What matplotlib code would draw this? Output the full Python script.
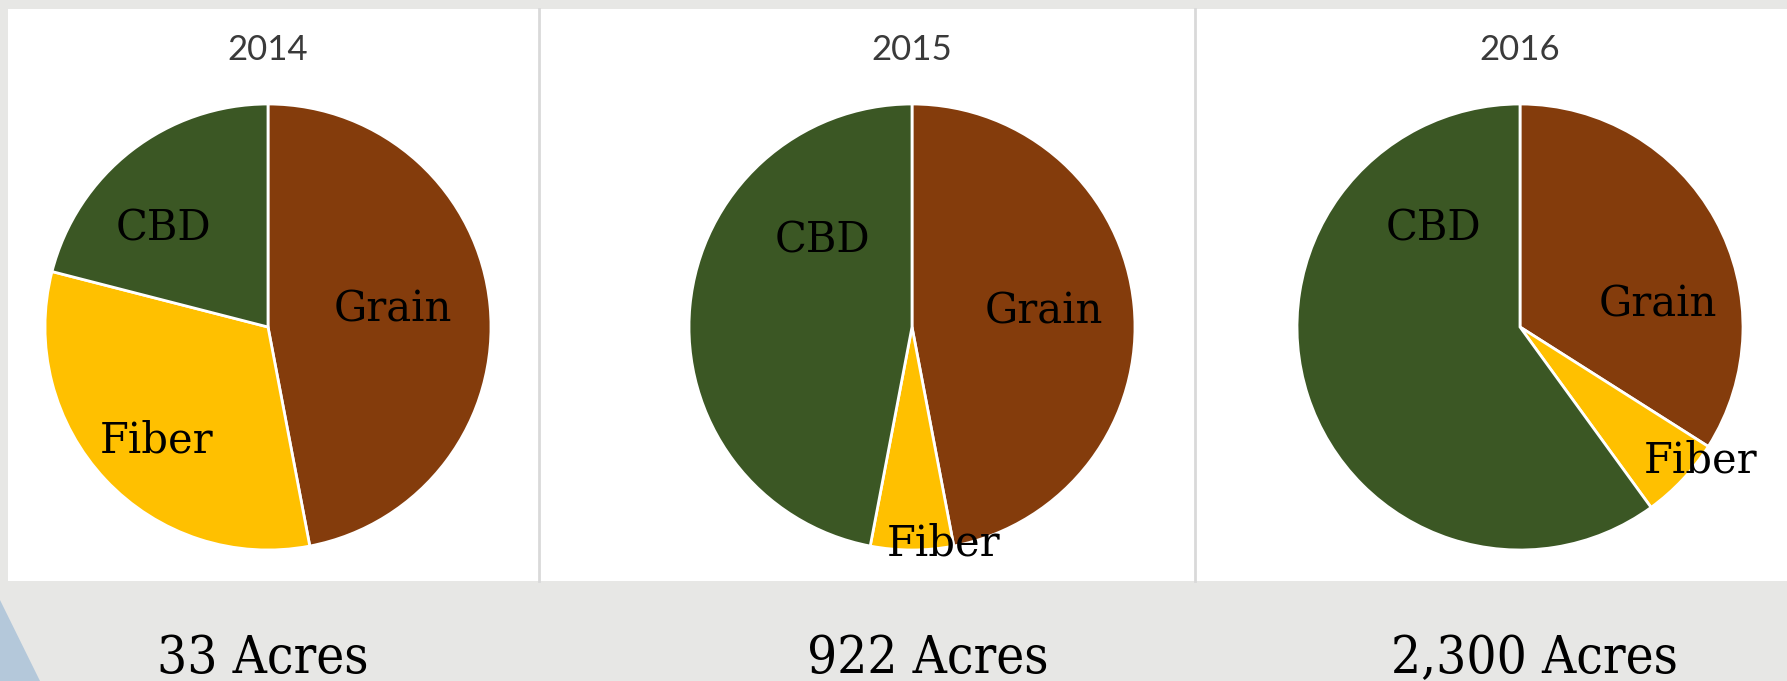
import matplotlib.pyplot as plt
from matplotlib.patches import Rectangle, Polygon

W, H = 1787, 681

# -----------------------------------
# Data
# -----------------------------------
years = ["2014", "2015", "2016"]
crops = ["Grain", "Fiber", "CBD"]
share_2014 = [47, 32, 21]
share_2015 = [47, 6, 47]
share_2016 = [34, 6, 60]
acres = ["33 Acres", "922 Acres", "2,300 Acres"]

colors = ["#843C0C", "#FFC000", "#3B5724"]

# label spots inside each pie (fraction of radius)
label_pos = [
    [(0.56, 0.08), (-0.50, -0.51), (-0.47, 0.44)],
    [(0.59, 0.07), (0.14, -0.97), (-0.40, 0.39)],
    [(0.62, 0.10), (0.81, -0.60), (-0.39, 0.44)],
]

centers_x = [268, 912, 1520]
center_y = 327
radius = 223
acre_x = [263, 928, 1534]


def fx(px):
    return px / W


def fy(py):
    return 1 - py / H


fig = plt.figure(figsize=(W / 100, H / 100), dpi=100)
fig.patch.set_facecolor("#e7e7e5")

# blue corner + white panel with dividers (behind the pies)
fig.patches.append(Polygon([(0, fy(600)), (0, 0), (fx(40), 0)], closed=True,
                           transform=fig.transFigure, facecolor="#b4c8da",
                           edgecolor="none", zorder=-2))
fig.patches.append(Rectangle((fx(8), fy(581)), 1 - fx(8), fy(9) - fy(581),
                             transform=fig.transFigure, facecolor="white",
                             edgecolor="none", zorder=-2))
for dx in [539, 1195]:
    fig.add_artist(plt.Line2D([fx(dx), fx(dx)], [fy(581), fy(9)],
                              transform=fig.transFigure, color="#d9d9d9",
                              lw=2, zorder=-1))

all_shares = [share_2014, share_2015, share_2016]

for i, shares in enumerate(all_shares):
    cx = centers_x[i]
    ax = fig.add_axes([fx(cx - radius), fy(center_y + radius),
                       2 * radius / W, 2 * radius / H])
    ax.pie(shares, colors=colors, startangle=90, counterclock=False,
           radius=1, wedgeprops=dict(edgecolor="white", linewidth=2))
    ax.set_xlim(-1, 1)
    ax.set_ylim(-1, 1)
    ax.axis("off")
    for name, (lx, ly) in zip(crops, label_pos[i]):
        ax.text(lx, ly, name, ha="center", va="center", fontsize=30,
                family="DejaVu Serif", color="black", clip_on=False)

    fig.text(fx(cx), fy(50), years[i], ha="center", va="center",
             fontsize=25, family="Lato", color="#3a3a3a")
    fig.text(fx(acre_x[i]), fy(673), acres[i], ha="center", va="baseline",
             fontsize=38, family="DejaVu Serif", fontstretch="condensed",
             color="black")

fig.savefig("out.png", dpi=100, facecolor=fig.get_facecolor())
